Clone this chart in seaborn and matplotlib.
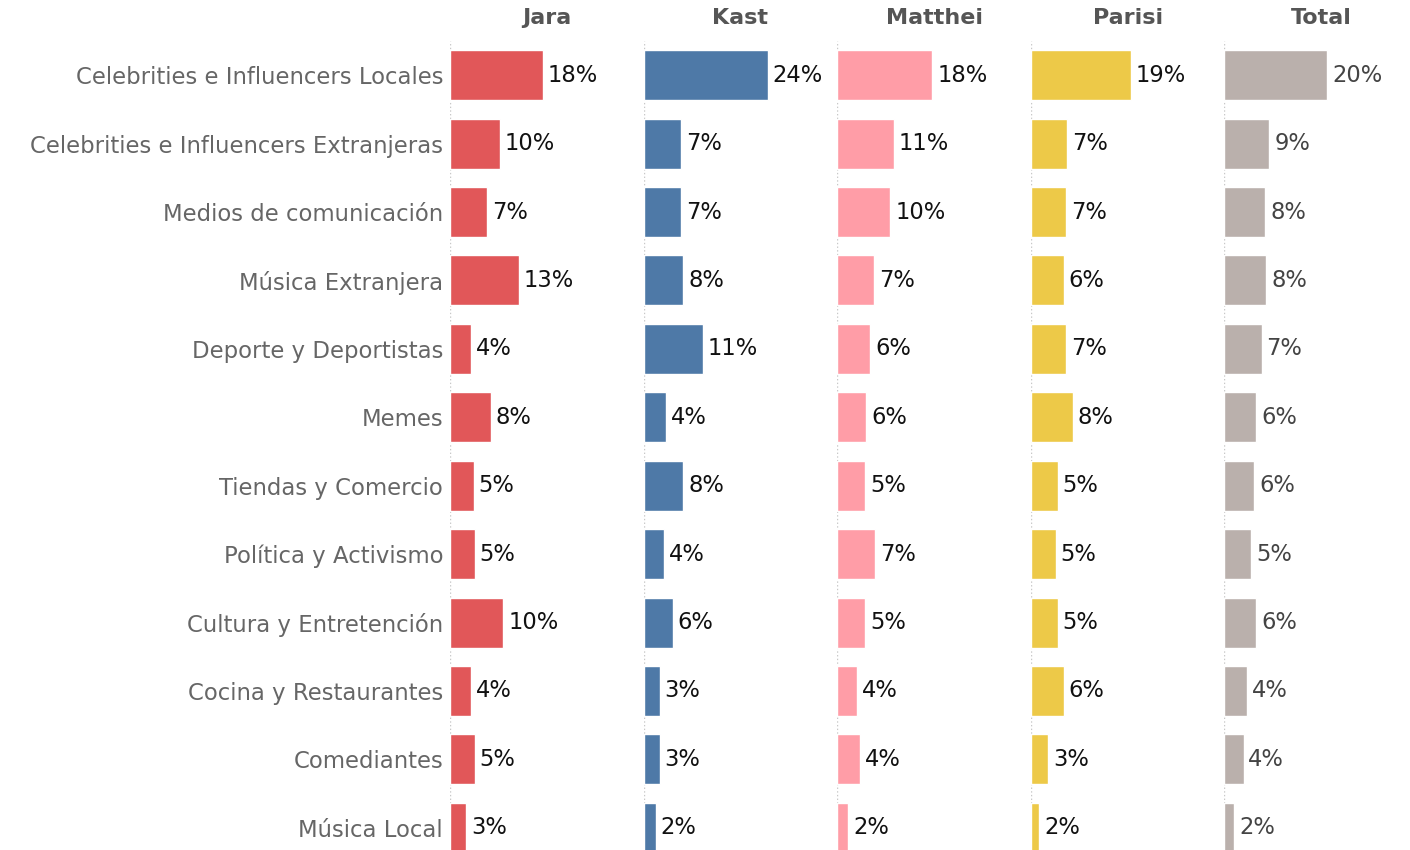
import pandas as pd
import matplotlib.pyplot as plt
import seaborn as sns

# datos (porcentajes)
categorias = [
    "Celebrities e Influencers Locales",
    "Celebrities e Influencers Extranjeras",
    "Medios de comunicación",
    "Música Extranjera",
    "Deporte y Deportistas",
    "Memes",
    "Tiendas y Comercio",
    "Política y Activismo",
    "Cultura y Entretención",
    "Cocina y Restaurantes",
    "Comediantes",
    "Música Local",
]
jara = [18.0, 9.7, 7.2, 13.3, 4.1, 7.9, 4.6, 4.8, 10.3, 4.1, 4.8, 3.1]
kast = [24.0, 7.2, 7.2, 7.7, 11.4, 4.3, 7.7, 3.9, 5.6, 3.1, 3.1, 2.4]
matthei = [18.4, 11.0, 10.3, 7.2, 6.4, 5.6, 5.4, 7.4, 5.4, 3.9, 4.4, 2.1]
parisi = [19.3, 7.0, 6.8, 6.4, 6.8, 8.1, 5.2, 4.8, 5.2, 6.4, 3.4, 1.6]
total = [19.9, 8.7, 7.9, 8.1, 7.2, 6.2, 5.8, 5.2, 6.2, 4.3, 3.7, 1.9]

candidatos = ["Jara", "Kast", "Matthei", "Parisi", "Total"]
colores = ["#E15759", "#4E79A7", "#FF9DA7", "#EDC948", "#BAB0AC"]

df = pd.DataFrame({"categoria": categorias, "Jara": jara, "Kast": kast,
                   "Matthei": matthei, "Parisi": parisi, "Total": total})

sns.set_style("white")
plt.rcParams['font.family'] = ['DejaVu Sans']

fig = plt.figure(figsize=(14.1, 8.5), dpi=100)

W, H = 1410, 850
panel_w = 193.6
for i, (cand, col) in enumerate(zip(candidatos, colores)):
    ax = fig.add_axes([(450 + i * panel_w) / W, -12 / H, panel_w / W, (862 - 41) / H])
    ax.axvline(0, color="#c8c8c8", ls=":", lw=1, zorder=0)
    sns.barplot(data=df, x=cand, y="categoria", color=col, width=0.73,
                saturation=1, ax=ax, zorder=2)
    lab_col = "#444444" if cand == "Total" else "#111111"
    ax.bar_label(ax.containers[0], labels=[f"{v:.0f}%" for v in df[cand]],
                 padding=3.5, fontsize=16.3, color=lab_col)
    ax.set_xlim(0, 37.45)
    ax.set_xlabel("")
    ax.set_ylabel("")
    ax.set_xticks([])
    ax.set_title(cand, fontsize=16, fontweight="bold", color="#555555", pad=12)
    sns.despine(ax=ax, left=True, bottom=True)
    ax.tick_params(axis="y", length=0, pad=5, labelsize=16.4, labelcolor="#666666")
    if i > 0:
        ax.set_yticklabels([])

fig.savefig("out.png", dpi=100)
